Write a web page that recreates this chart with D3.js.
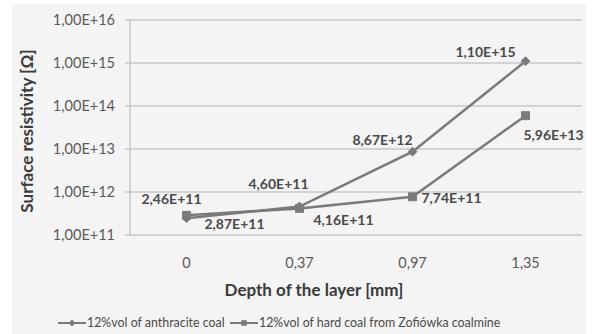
<!DOCTYPE html>
<html><head><meta charset="utf-8">
<script src="https://cdn.jsdelivr.net/npm/d3@7"></script>
<style>body{margin:0;background:#fff}svg{display:block}text{font-family:Lato,"Open Sans",sans-serif}</style>
</head><body><svg id="c" width="592" height="334"></svg>
<script>
const categories = ["0", "0,37", "0,97", "1,35"];
const anthracite = [2.46e11, 4.60e11, 8.67e12, 1.10e15];
const hardCoal = [2.87e11, 4.16e11, 7.74e11, 5.96e13];
const anthraciteLabels = ["2,46E+11", "4,60E+11", "8,67E+12", "1,10E+15"];
const hardCoalLabels = ["2,87E+11", "4,16E+11", "7,74E+11", "5,96E+13"];
const yTicks = [1e11, 1e12, 1e13, 1e14, 1e15, 1e16];
const yTickLabels = ["1,00E+11", "1,00E+12", "1,00E+13", "1,00E+14", "1,00E+15", "1,00E+16"];
const seriesNames = ["12%vol of anthracite coal", "12%vol of hard coal from Zofiówka coalmine"];

(function () {
const svg = d3.select("#c");
const col = "#7a7a7a", txt = "#4a4a4a";
svg.append("rect").attr("x", 12).attr("y", 4).attr("width", 574).attr("height", 330).attr("fill", "#f4f4f4");

const pLeft = 130, pRight = 582, pTop = 20, pBottom = 235;
const x = d3.scaleBand().domain(categories).range([pLeft, pRight]);
const y = d3.scaleLog().domain([1e11, 1e16]).range([pBottom, pTop]);

// gridlines
svg.append("g").selectAll("line").data(yTicks).join("line")
  .attr("x1", pLeft - 5).attr("x2", pRight).attr("y1", d => y(d)).attr("y2", d => y(d))
  .attr("stroke", "#c9c9c9").attr("stroke-width", 1.5);
svg.append("line").attr("x1", pLeft).attr("x2", pLeft).attr("y1", pTop).attr("y2", pBottom)
  .attr("stroke", "#c9c9c9").attr("stroke-width", 1.5);

// y tick labels
svg.append("g").selectAll("text").data(yTicks).join("text")
  .attr("x", pLeft - 15).attr("y", d => y(d)).attr("dy", "0.35em").attr("text-anchor", "end")
  .attr("font-size", 14.5).attr("fill", "#5a5a5a").text((d, i) => yTickLabels[i]);

// x tick labels
svg.append("g").selectAll("text").data(categories).join("text")
  .attr("x", d => x(d) + x.bandwidth() / 2).attr("y", 263).attr("dy", "0.35em").attr("text-anchor", "middle")
  .attr("font-size", 14.5).attr("fill", "#5a5a5a").text(d => d);

// titles
svg.append("text").attr("x", 314).attr("y", 290).attr("dy", "0.35em").attr("text-anchor", "middle")
  .attr("font-size", 17).attr("font-weight", "bold").attr("fill", "#3a3a3a").text("Depth of the layer [mm]");
svg.append("text").attr("transform", "translate(27,131) rotate(-90)").attr("dy", "0.35em").attr("text-anchor", "middle")
  .attr("font-size", 17).attr("font-weight", "bold").attr("fill", "#3a3a3a").text("Surface resistivity [Ω]");

const cx = (d, i) => x(categories[i]) + x.bandwidth() / 2;
const line = d3.line().x((d, i) => cx(d, i)).y(d => y(d));

function drawSeries(vals, marker) {
  svg.append("path").datum(vals).attr("d", line).attr("fill", "none").attr("stroke", col).attr("stroke-width", 2.5);
  svg.append("g").selectAll("path").data(vals).join("path")
    .attr("d", d3.symbol().type(marker === "diamond" ? d3.symbolDiamond2 : d3.symbolSquare2).size(marker === "diamond" ? 50 : 80))
    .attr("transform", (d, i) => `translate(${cx(d, i)},${y(d)})`)
    .attr("fill", col).attr("stroke", col).attr("stroke-width", 1);
}
drawSeries(hardCoal, "square");
drawSeries(anthracite, "diamond");

// data labels (nudge: dx,dy from point)
const aNudge = [[-15, -19], [-21, -22], [-30, -12], [-40, -9]];
const hNudge = [[48, 9], [44, 12], [39, 1], [28, 19]];
svg.append("g").selectAll("text").data(anthracite).join("text")
  .attr("x", (d, i) => cx(d, i) + aNudge[i][0]).attr("y", (d, i) => y(d) + aNudge[i][1]).attr("dy", "0.35em")
  .attr("text-anchor", "middle").attr("font-size", 14).attr("font-weight", "bold").attr("fill", txt)
  .text((d, i) => anthraciteLabels[i]);
svg.append("g").selectAll("text").data(hardCoal).join("text")
  .attr("x", (d, i) => cx(d, i) + hNudge[i][0]).attr("y", (d, i) => y(d) + hNudge[i][1]).attr("dy", "0.35em")
  .attr("text-anchor", "middle").attr("font-size", 14).attr("font-weight", "bold").attr("fill", txt)
  .text((d, i) => hardCoalLabels[i]);

// legend
const lg = svg.append("g");
const legendItems = [{x: 58, name: seriesNames[0], m: "diamond"}, {x: 230, name: seriesNames[1], m: "square"}];
legendItems.forEach(it => {
  lg.append("line").attr("x1", it.x).attr("x2", it.x + 28).attr("y1", 323).attr("y2", 323).attr("stroke", col).attr("stroke-width", 2);
  lg.append("path").attr("d", d3.symbol().type(it.m === "diamond" ? d3.symbolDiamond2 : d3.symbolSquare2).size(it.m === "diamond" ? 30 : 40))
    .attr("transform", `translate(${it.x + 14},323)`).attr("fill", col);
  lg.append("text").attr("x", it.x + 29).attr("y", 323).attr("dy", "0.35em").attr("font-size", 12.4).attr("fill", txt).text(it.name);
});
})();
</script></body></html>
